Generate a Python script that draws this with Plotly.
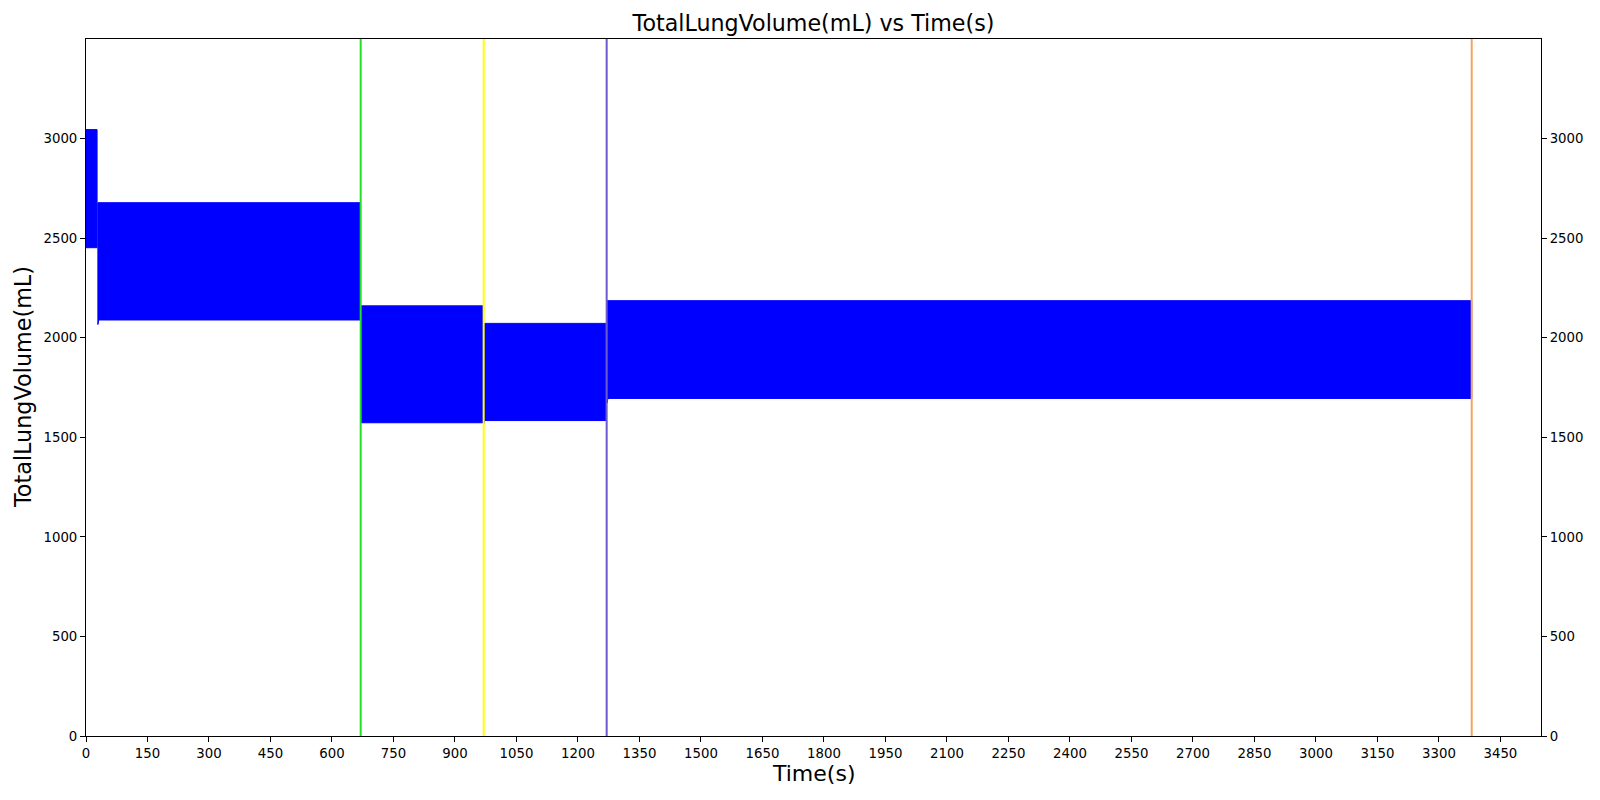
import plotly.graph_objects as go

# Breathing segments (envelope of the oscillating signal)
seg_t0 = [0, 29, 671, 970, 1271]          # segment start time (s)
seg_t1 = [27, 669, 968, 1268, 3380]       # segment end time (s)
seg_hi = [3045, 2678, 2160, 2072, 2186]   # peak volume (mL)
seg_lo = [2452, 2089, 1573, 1584, 1695]   # trough volume (mL)
seg_dip = [2452, 2066, 1573, 1566, 1672]  # trough right at segment start (mL)

# Event markers (vertical lines)
event_t = [670, 970, 1270, 3380]
event_colors = ["#22E022", "#FFFF00", "#6A5ACD", "#F4A460"]

x_ticks = list(range(0, 3451, 150))
y_ticks = list(range(0, 3001, 500))

FONT = "DejaVu Sans"

xs, ys = [], []
for t0, t1, hi, lo, dip in zip(seg_t0, seg_t1, seg_hi, seg_lo, seg_dip):
    xs += [t0, t1, t1, t0 + 2, t0, t0, None]
    ys += [hi, hi, lo, lo, dip, hi, None]

fig = go.Figure()
fig.add_trace(go.Scatter(
    x=xs, y=ys, mode="lines", fill="toself",
    fillcolor="#0000FF", line=dict(color="#0000FF", width=1),
    hoverinfo="skip", showlegend=False,
))
fig.add_trace(go.Scatter(
    x=[0], y=[0], yaxis="y2", mode="markers",
    marker=dict(opacity=0), hoverinfo="skip", showlegend=False,
))

for t, c in zip(event_t, event_colors):
    fig.add_shape(type="line", xref="x", yref="paper", x0=t, x1=t, y0=0, y1=1,
                  line=dict(color=c, width=2), layer="above")

axis_common = dict(
    showgrid=False, zeroline=False, showline=True, linecolor="black", linewidth=1,
    ticks="outside", ticklen=5, tickwidth=1, tickcolor="black",
    tickfont=dict(family=FONT, size=13.3, color="black"),
)

fig.update_layout(
    width=1600, height=800,
    margin=dict(l=78, r=67, t=31, b=72),
    paper_bgcolor="white", plot_bgcolor="white",
    showlegend=False,
    title=dict(text="TotalLungVolume(mL) vs Time(s)", x=0.5, xref="paper",
               y=1 - 15.5 / 800, yref="container", yanchor="middle", xanchor="center",
               font=dict(family=FONT, size=22.2, color="black")),
    xaxis=dict(range=[0, 3549], tickvals=x_ticks, mirror=True, **axis_common),
    yaxis=dict(range=[0, 3500], tickvals=y_ticks, **axis_common),
    yaxis2=dict(range=[0, 3500], tickvals=y_ticks, overlaying="y", side="right",
                **axis_common),
    annotations=[
        dict(text="Time(s)", xref="paper", yref="paper", x=0.5, y=0,
             yshift=-37, xanchor="center", yanchor="middle", showarrow=False,
             font=dict(family=FONT, size=22, color="black")),
        dict(text="TotalLungVolume(mL)", xref="paper", yref="paper", x=0, y=0.5,
             xshift=-63.5, xanchor="center", yanchor="middle", textangle=-90,
             showarrow=False, font=dict(family=FONT, size=22.3, color="black")),
    ],
)

fig.write_html("out.html")
